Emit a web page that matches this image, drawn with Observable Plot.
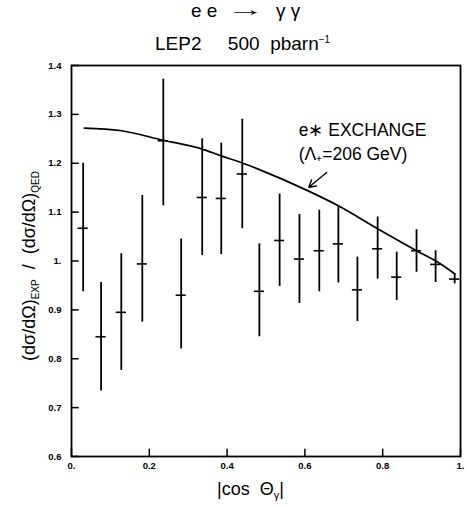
<!DOCTYPE html>
<html>
<head>
<meta charset="utf-8">
<script src="https://cdn.jsdelivr.net/npm/d3@7"></script>
<script src="https://cdn.jsdelivr.net/npm/@observablehq/plot@0.6"></script>
<style>
  html, body { margin: 0; padding: 0; background: #fff; }
  #wrap { width: 467px; font-family: "Liberation Sans", Arial, sans-serif; color: #000; }
  #head { position: relative; height: 57px; }
  #head span { position: absolute; font-size: 19px; line-height: 19px; white-space: pre; }
  #t1 { left: 191px; top: 1px; }
  #t2 { left: 236px; top: 0px; transform: scaleX(2.0); transform-origin: center; }
  #t3 { left: 276px; top: 1px; }
  #subtitle { left: 155px; top: 34px; }
  #subtitle sup { font-size: 10px; vertical-align: 7px; line-height: 0; }
  svg { display: block; }
</style>
</head>
<body>
<div id="wrap">
  <div id="head">
    <span id="t1">e e</span><span id="t2">→</span><span id="t3">γ γ</span>
    <span id="subtitle">LEP2     500  pbarn<sup>−1</sup></span>
  </div>
  <div id="chart"></div>
</div>
<script>
// measured points: |cos θγ| bin centres, ratio, error bar low / high
const cosTheta = [0.030, 0.076, 0.128, 0.182, 0.236, 0.282, 0.336, 0.385, 0.439, 0.483,
                  0.535, 0.586, 0.637, 0.686, 0.735, 0.787, 0.836, 0.887, 0.936, 0.985];
const ratio    = [1.067, 0.845, 0.895, 0.994, 1.246, 0.930, 1.130, 1.128, 1.178, 0.938,
                  1.042, 1.004, 1.021, 1.035, 0.941, 1.025, 0.967, 1.021, 0.993, 0.963];
const errLow   = [0.937, 0.734, 0.776, 0.875, 1.113, 0.820, 1.011, 1.013, 1.066, 0.845,
                  0.948, 0.913, 0.937, 0.955, 0.876, 0.963, 0.919, 0.977, 0.956, 0.953];
const errHigh  = [1.200, 0.956, 1.015, 1.134, 1.372, 1.045, 1.250, 1.241, 1.290, 1.035,
                  1.137, 1.095, 1.104, 1.113, 1.008, 1.090, 1.018, 1.064, 1.021, 0.974];

// e* exchange curve
const curveX = [0.033, 0.125, 0.236, 0.336, 0.385, 0.434, 0.483, 0.607, 0.686, 0.787, 0.887, 0.949, 0.985];
const curveY = [1.272, 1.267, 1.247, 1.229, 1.215, 1.202, 1.187, 1.144, 1.113, 1.066, 1.021, 0.994, 0.974];

// ticks
const xTicks = [0, 0.2, 0.4, 0.6, 0.8, 1.0];
const yTicks = [0.6, 0.7, 0.8, 0.9, 1.0, 1.1, 1.2, 1.3, 1.4];

// annotation
const annotLines = ["e∗ EXCHANGE", "(Λ₊=206 GeV)"];
const annotX = [0.584, 0.584];
const annotY = [1.267, 1.219];
const arrowStart = [0.656, 1.181];
const arrowEnd = [0.610, 1.151];

const points = cosTheta.map((x, i) => ({x, y: ratio[i], lo: errLow[i], hi: errHigh[i]}));
const curve = curveX.map((x, i) => ({x, y: curveY[i]}));
const annot = annotLines.map((t, i) => ({t, x: annotX[i], y: annotY[i]}));

const fmt = d => (Math.abs(d - Math.round(d)) < 1e-9 ? d.toFixed(0) + "." : d.toFixed(1));

const plot = Plot.plot({
  width: 467,
  height: 450,
  marginTop: 8,
  marginBottom: 51,
  marginLeft: 71,
  marginRight: 7,
  style: {fontFamily: "Liberation Sans, Arial, sans-serif", background: "#fff", color: "#000"},
  x: {domain: [0, 1], ticks: xTicks, tickFormat: fmt},
  y: {domain: [0.6, 1.4], ticks: yTicks, tickFormat: fmt},
  marks: [
    Plot.frame({stroke: "#000", strokeWidth: 1.8}),
    Plot.axisX({ticks: xTicks, tickFormat: fmt, tickSize: 0, tickPadding: 6, label: null,
                fontSize: 9.5, fontWeight: "bold"}),
    Plot.axisY({ticks: yTicks, tickFormat: fmt, tickSize: 0, tickPadding: 10, label: null,
                fontSize: 9.5, fontWeight: "bold"}),
    // inward ticks
    Plot.ruleY(yTicks, {y: d => d, x1: 0, x2: 0.02, stroke: "#000", strokeWidth: 1.5}),
    Plot.ruleX(xTicks, {x: d => d, y1: 0.6, y2: 0.615, stroke: "#000", strokeWidth: 1.5}),
    // theory curve
    Plot.line(curve, {x: "x", y: "y", curve: "monotone-x", stroke: "#000", strokeWidth: 1.7}),
    // error bars
    Plot.ruleX(points, {x: "x", y1: "lo", y2: "hi", stroke: "#000", strokeWidth: 1.8}),
    Plot.ruleY(points, {y: "y", x1: d => d.x - 0.013, x2: d => d.x + 0.013, stroke: "#000", strokeWidth: 1.6}),
    // annotation
    Plot.text(annot, {x: "x", y: "y", text: "t", textAnchor: "start", fontSize: 17.5, fill: "#000"}),
    Plot.arrow([{x1: arrowStart[0], y1: arrowStart[1], x2: arrowEnd[0], y2: arrowEnd[1]}],
               {x1: "x1", y1: "y1", x2: "x2", y2: "y2", stroke: "#000", strokeWidth: 1.4, headLength: 9})
  ]
});

document.getElementById("chart").appendChild(plot);

// axis labels with sub/superscripts
const svg = d3.select(plot);
const ylab = svg.append("text")
  .attr("transform", "translate(35,209) rotate(-90)")
  .attr("text-anchor", "middle")
  .attr("font-family", "Liberation Sans, Arial, sans-serif")
  .attr("font-size", 18)
  .attr("fill", "#000")
  .style("white-space", "pre");
ylab.append("tspan").text("(dσ/dΩ)");
ylab.append("tspan").attr("font-size", 10).attr("dy", 4).text("EXP");
ylab.append("tspan").attr("dy", -4).text("  /  ");
ylab.append("tspan").text("(dσ/dΩ)");
ylab.append("tspan").attr("font-size", 10).attr("dy", 4).text("QED");

const xlab = svg.append("text")
  .attr("x", 217).attr("y", 438)
  .attr("text-anchor", "start")
  .attr("font-family", "Liberation Sans, Arial, sans-serif")
  .attr("font-size", 18)
  .attr("fill", "#000")
  .style("white-space", "pre");
xlab.append("tspan").text("|cos  Θ");
xlab.append("tspan").attr("font-size", 11).attr("dy", 4).text("γ");
xlab.append("tspan").attr("dy", -4).text("|");
</script>
</body>
</html>
